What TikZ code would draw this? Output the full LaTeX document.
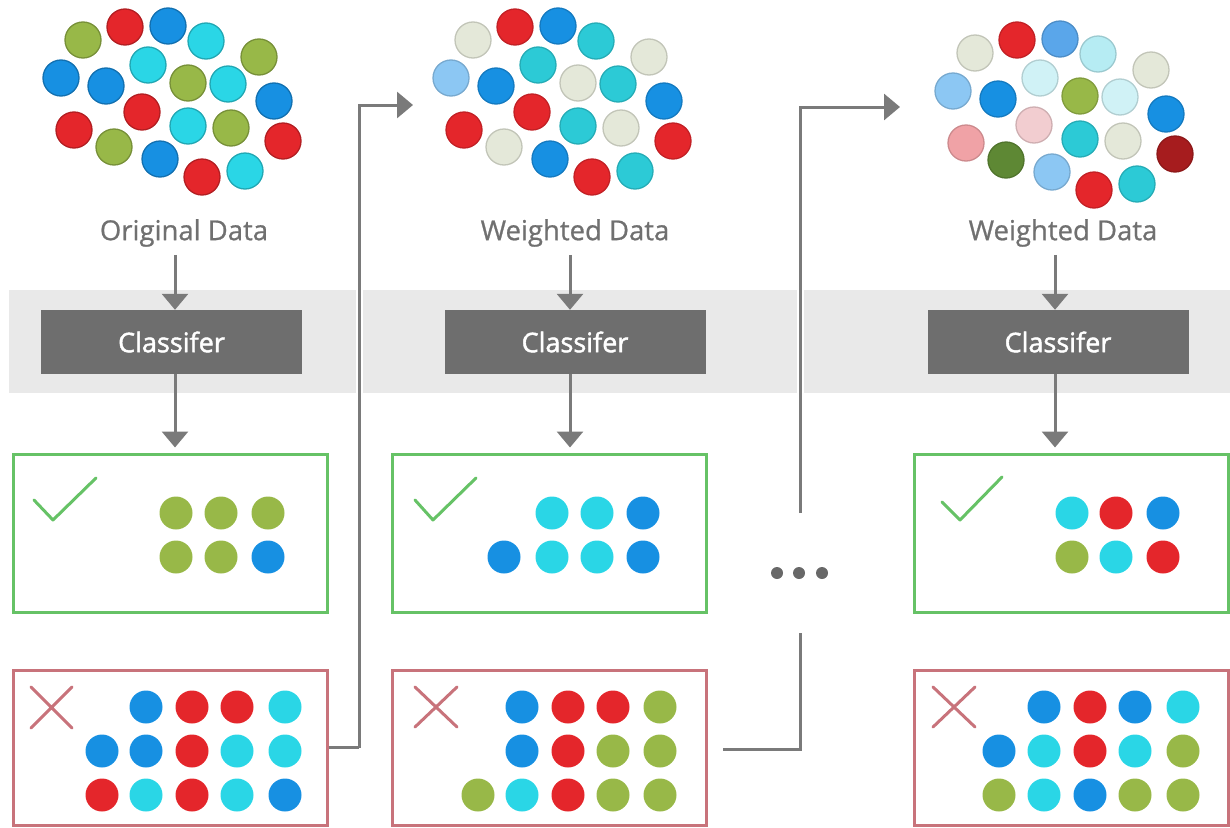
\documentclass[tikz,border=0pt]{standalone}
\usepackage{fontspec}
\setmainfont{Open Sans}
\newfontfamily\labfont{Open Sans}[FakeBold=0.8]
\newfontfamily\clsfont{Open Sans}[FakeBold=1.6]
\usetikzlibrary{arrows.meta,calc}
\definecolor{cR}{HTML}{E4262B}
\definecolor{cB}{HTML}{1790E2}
\definecolor{cC}{HTML}{2AD6E6}
\definecolor{cT}{HTML}{2CCAD6}
\definecolor{cO}{HTML}{98B848}
\definecolor{cP}{HTML}{E4E8D9}
\definecolor{cLB}{HTML}{8CC7F3}
\definecolor{cMB}{HTML}{5AA6EA}
\definecolor{cPC}{HTML}{B6ECF3}
\definecolor{cVPC}{HTML}{D0F2F6}
\definecolor{cPP}{HTML}{F2CDD0}
\definecolor{cPK}{HTML}{F0A2A6}
\definecolor{cDR}{HTML}{A61C1E}
\definecolor{cDG}{HTML}{5E8834}
\definecolor{bandc}{HTML}{E9E9E9}
\definecolor{clsc}{HTML}{6E6E6E}
\definecolor{linec}{HTML}{7A7A7A}
\definecolor{txtc}{HTML}{707070}
\definecolor{okc}{HTML}{66C266}
\definecolor{badc}{HTML}{C8737B}
\begin{document}
\begin{tikzpicture}[x=1pt,y=-1pt,
  lab/.style={text=txtc,font=\labfont\fontsize{27.5}{32}\selectfont,inner sep=0pt},
  cls/.style={fill=clsc,text=white,font=\clsfont\fontsize{27}{32}\selectfont,minimum width=261pt,minimum height=64pt,inner sep=0pt},
  okbox/.style={draw=okc,line width=3pt,minimum width=314pt,minimum height=158pt,inner sep=0pt},
  badbox/.style={draw=badc,line width=3pt,minimum width=314pt,minimum height=155pt,inner sep=0pt},
  arr/.style={draw=linec,line width=3pt,-{Triangle[length=16pt,width=26pt]}},
  conn/.style={draw=linec,line width=3pt},
  markline/.style={line width=3pt,line cap=round,line join=round},
  bigdot/.style={line width=1.3pt},
]
\useasboundingbox (0,0) rectangle (1230,827);
% band
\fill[bandc] (9,290) rectangle (1230,393);
\fill[white] (355.5,290) rectangle (363,393);
\fill[white] (796.5,290) rectangle (804,393);

% ---------- top clusters ----------
\foreach \px/\py/\c in {83/40/cO,125/27/cR,168/26/cB,206/41/cC,259/57/cO,
  61/78/cB,106/86/cB,148/65/cC,188/83/cO,228/84/cC,274/101/cB,
  142/112/cR,74/130/cR,188/126/cC,231/128/cO,283/141/cR,
  114/147/cO,160/159/cB,202/177/cR,245/171/cC}
  {\filldraw[bigdot,fill=\c,draw=\c!78!black] (\px,\py) circle (18);}
\begin{scope}[shift={(390,0)}]
\foreach \px/\py/\c in {83/40/cP,125/27/cR,168/26/cB,206/41/cT,259/57/cP,
  61/78/cLB,106/86/cB,148/65/cT,188/83/cP,228/84/cT,274/101/cB,
  142/112/cR,74/130/cR,188/126/cT,231/128/cP,283/141/cR,
  114/147/cP,160/159/cB,202/177/cR,245/171/cT}
  {\filldraw[bigdot,fill=\c,draw=\c!85!black] (\px,\py) circle (18);}
\end{scope}
\begin{scope}[shift={(892,13)}]
\foreach \px/\py/\c in {83/40/cP,125/27/cR,168/26/cMB,206/41/cPC,259/57/cP,
  61/78/cLB,106/86/cB,148/65/cVPC,188/83/cO,228/84/cVPC,274/101/cB,
  142/112/cPP,74/130/cPK,188/126/cT,231/128/cP,283/141/cDR,
  114/147/cDG,160/159/cLB,202/177/cR,245/171/cT}
  {\filldraw[bigdot,fill=\c,draw=\c!85!black] (\px,\py) circle (18);}
\end{scope}

% ---------- labels ----------
\node[lab] (lab1) at (184,233) {Original Data};
\node[lab] (lab2) at (575,233) {Weighted Data};
\node[lab] (lab3) at (1063,233) {Weighted Data};

% ---------- classifiers ----------
\node[cls] (cls1) at (171.5,342) {Classifer};
\node[cls] (cls2) at (575,342) {Classifer};
\node[cls] (cls3) at (1058,342) {Classifer};

% ---------- boxes ----------
\node[okbox] (ok1) at (170,533) {};
\node[okbox] (ok2) at (549,533) {};
\node[okbox] (ok3) at (1071,533) {};
\node[badbox] (bad1) at (170,747.5) {};
\node[badbox] (bad2) at (549,747.5) {};
\node[badbox] (bad3) at (1071,747.5) {};

% ---------- vertical arrows ----------
\coordinate (x1) at (175,0);
\coordinate (x2) at (570,0);
\coordinate (x3) at (1055,0);
\foreach \k in {1,2,3}{
  \draw[arr] ($(lab\k.south -| x\k)+(0,8)$) -- (cls\k.north -| x\k);
  \draw[arr] (cls\k.south -| x\k) -- ($(ok\k.north -| x\k)+(0,-5)$);
}

% ---------- connectors ----------
\coordinate (k1) at (359,105);
\coordinate (t1) at (413,105);
\draw[conn] (bad1.east) -- (bad1.east -| k1);
\draw[arr] (bad1.east -| k1) -- (k1) -- (t1);

\coordinate (s2) at (723,749);
\coordinate (k2) at (800,749);
\coordinate (e2) at (800,633);
\draw[conn] (s2) -- (k2) -- (e2);
\coordinate (b3) at (800,513);
\coordinate (k3) at (800,107);
\coordinate (t3) at (900,107);
\draw[arr] (b3) -- (k3) -- (t3);

% ellipsis
\fill[linec!85!black] (777,573) circle (6);
\fill[linec!85!black] (799,573) circle (6);
\fill[linec!85!black] (822,573) circle (6);

% ---------- check / cross marks ----------
\draw[markline,okc] (34,500) -- (53,520) -- (96,478);
\draw[markline,okc] (415,500) -- (433,520) -- (476,478);
\draw[markline,okc] (942,502) -- (960,520) -- (1002,477);
\draw[markline,badc] (31,687) -- (72,728) (72,687) -- (31,728);
\draw[markline,badc] (415,687) -- (457,727) (457,687) -- (415,727);
\draw[markline,badc] (933,687) -- (975,727) (975,687) -- (933,727);

% ---------- box dots ----------
\foreach \px/\py/\c in {176/513/cO,221/513/cO,268/513/cO,176/557/cO,221/557/cO,268/557/cB,
  146/707/cB,192/707/cR,237/707/cR,285/707/cC,
  102/751/cB,146/751/cB,192/751/cR,237/751/cC,285/751/cC,
  102/795/cR,146/795/cC,192/795/cR,237/795/cC,285/795/cB,
  552/513/cC,597/513/cC,643/513/cB,504/557/cB,552/557/cC,597/557/cC,643/557/cB,
  522/707/cB,568/707/cR,613/707/cR,660/707/cO,
  522/751/cB,568/751/cR,613/751/cO,660/751/cO,
  478/795/cO,522/795/cC,568/795/cR,613/795/cO,660/795/cO,
  1072/513/cC,1116/513/cR,1163/513/cB,1072/557/cO,1116/557/cC,1163/557/cR,
  1044/707/cB,1090/707/cR,1135/707/cB,1183/707/cC,
  999/751/cB,1044/751/cC,1090/751/cR,1135/751/cC,1183/751/cO,
  999/795/cO,1044/795/cC,1090/795/cB,1135/795/cO,1183/795/cO}
  {\fill[\c] (\px,\py) circle (16.5);}
\end{tikzpicture}
\end{document}
